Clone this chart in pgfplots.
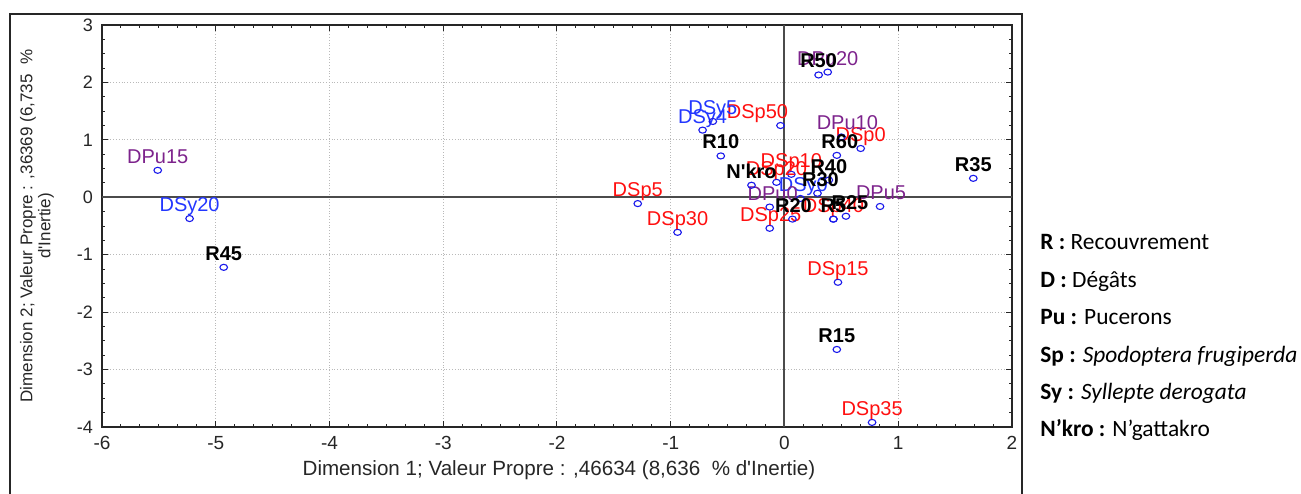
\documentclass[border=0pt]{standalone}
\usepackage{fontspec}
\setmainfont{Liberation Sans}
\newfontfamily\calibri{Carlito}
\usepackage{pgfplots}
\pgfplotsset{compat=1.18}
\usepackage{pgfplotstable}

\definecolor{labred}{RGB}{255,15,15}
\definecolor{labblue}{RGB}{35,55,255}
\definecolor{labpurple}{RGB}{125,35,140}
\definecolor{ptblue}{RGB}{25,25,235}
\definecolor{axgray}{RGB}{75,75,75}

% Correspondence analysis coordinates (Dim 1, Dim 2); dx = label shift in pt
\pgfplotstableread{
x      y      dx   lab
-0.56  0.72   0    R10
 0.46  0.73   1.5  R60
 0.30  2.13   0    R50
 0.39  0.30   0    R40
 0.29  0.07   1.5  R30
 0.07 -0.38   0.5  R20
 0.43 -0.38   0    R5
 0.54 -0.33   2    R25
 1.66  0.33   0    R35
-4.93 -1.22   0    R45
 0.46 -2.65   0    R15
-0.29  0.21   0    {N\textquotesingle kro}
}\tabR

\pgfplotstableread{
x      y      dx    lab
 0.67  0.85   0     DSp0
-1.29 -0.11   0     DSp5
 0.06  0.40   0     DSp10
 0.47 -1.48   0     DSp15
-0.07  0.26   0     DSp20
-0.13 -0.54   0.5   DSp25
-0.94 -0.61   0     DSp30
 0.77 -3.92   0     DSp35
 0.43 -0.38   0     DSp40
-0.035 1.25  -11.5  DSp50
}\tabSp

\pgfplotstableread{
x      y      dx   lab
 0.14 -0.02   1.5  DSy0
-0.72  1.17   0    DSy4
-0.63  1.32   0    DSy5
-5.23 -0.37   0    DSy20
}\tabSy

\pgfplotstableread{
x      y      dx   lab
-0.13 -0.17   1.5  DPu0
 0.84 -0.16   0.5  DPu5
 0.50  1.05   3    DPu10
-5.51  0.47   0    DPu15
 0.38  2.18   0    DPu20
}\tabPu

\pgfplotsset{
  capoint/.style={
    only marks, mark=o, color=ptblue,
    mark size=1.9pt,
    mark options={yscale=0.8, line width=0.55pt},
    point meta=explicit symbolic,
    nodes near coords,
    visualization depends on={\thisrow{dx} \as \dx},
    every node near coord/.append style={
      anchor=base, xshift=\dx pt, yshift=3.5pt, inner sep=0pt,
      font=\fontsize{10}{12}\selectfont, text=#1},
  },
}

\begin{document}
\begin{tikzpicture}
\useasboundingbox (-51pt,-33pt) rectangle (599.5pt,213.5pt);

% outer frame of the figure panel
\draw[black!85, line width=1pt] (-46pt,-40pt) -- (-46pt,206.5pt) -- (460pt,206.5pt) -- (460pt,-40pt);

\begin{axis}[
  at={(0,0)}, anchor=south west, scale only axis,
  width=455pt, height=201pt,
  xmin=-6, xmax=2, ymin=-4, ymax=3,
  xtick={-6,-5,...,2}, ytick={-4,-3,...,3},
  minor x tick num=5, minor y tick num=3,
  tick align=inside,
  major tick length=3pt, minor tick length=1.6pt,
  grid=major,
  major grid style={densely dotted, gray!55, line width=0.5pt},
  axis line style={black!85, line width=0.6pt},
  tick style={black!85, line width=0.5pt},
  ticklabel style={text=black!85},
  xticklabel style={yshift=-1pt, font=\fontsize{9.5}{11}\selectfont},
  yticklabel style={xshift=-1pt, font=\fontsize{9}{11}\selectfont},
  /pgf/number format/assume math mode=true,
  clip=false,
]
% zero axes
\draw[axgray, line width=1pt] (axis cs:0,-4) -- (axis cs:0,3);
\draw[axgray, line width=1pt] (axis cs:-6,0) -- (axis cs:2,0);

\addplot[capoint=labred]    table[x=x, y=y, meta=lab] {\tabSp};
\addplot[capoint=labblue]   table[x=x, y=y, meta=lab] {\tabSy};
\addplot[capoint=labpurple] table[x=x, y=y, meta=lab] {\tabPu};
\addplot[capoint=black, every node near coord/.append style={font=\fontsize{10}{12}\selectfont\bfseries}]
  table[x=x, y=y, meta=lab] {\tabR};
\end{axis}

% axis titles
\node[font=\fontsize{10.3}{12}\selectfont, text=black!85] at (228.5pt,-21.5pt)
  {Dimension 1; Valeur Propre : ,46634 (8,636~~\% d\textquotesingle Inertie)};
\node[font=\fontsize{8.5}{7}\selectfont, text=black!85, rotate=90, align=center] at (-32.5pt,100.5pt)
  {Dimension 2; Valeur Propre : ,36369 (6,735~~\%\\d\textquotesingle Inertie)};

% abbreviations
\begin{scope}[every node/.style={anchor=base west, inner sep=0pt, font=\calibri\fontsize{11.7}{14}\selectfont}]
\node at (469pt,88.5pt) {\textbf{R :} Recouvrement};
\node at (469pt,70pt)   {\textbf{D :} Dégâts};
\node at (469pt,51.5pt) {\textbf{Pu :} Pucerons};
\node at (469pt,32.5pt) {\textbf{Sp :} \textit{Spodoptera frugiperda}};
\node at (469pt,14pt)   {\textbf{Sy :} \textit{Syllepte derogata}};
\node at (469pt,-4.5pt) {\textbf{N’kro :} N’gattakro};
\end{scope}
\end{tikzpicture}
\end{document}
